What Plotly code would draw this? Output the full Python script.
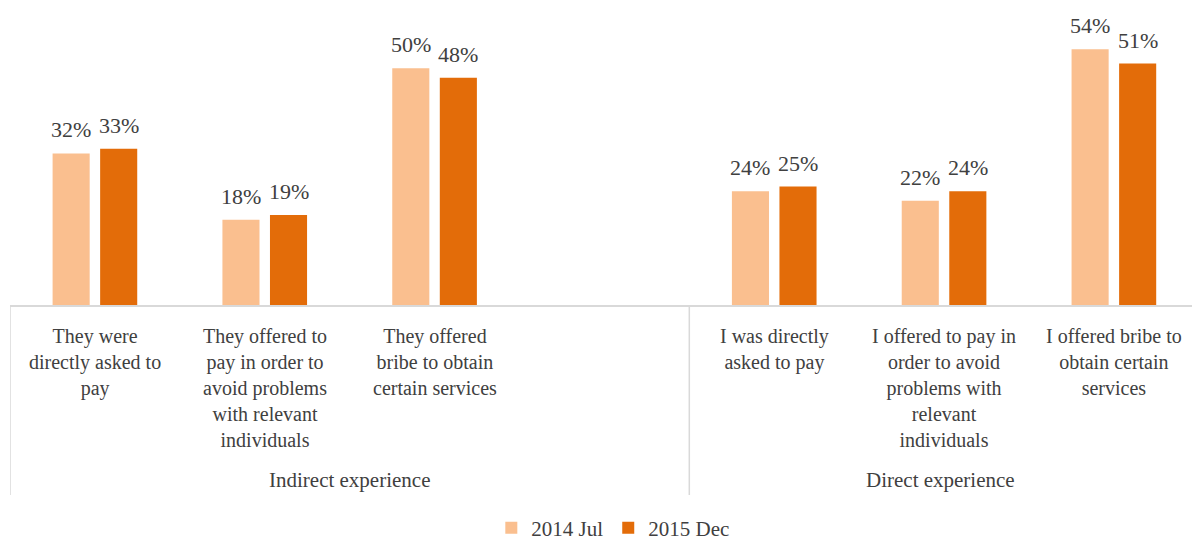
import plotly.graph_objects as go

# Survey categories (blank slot separates the two experience groups)
categories = [
    "They were<br>directly asked to<br>pay",
    "They offered to<br>pay in order to<br>avoid problems<br>with relevant<br>individuals",
    "They offered<br>bribe to obtain<br>certain services",
    " ",
    "I was directly<br>asked to pay",
    "I offered to pay in<br>order to avoid<br>problems with<br>relevant<br>individuals",
    "I offered bribe to<br>obtain certain<br>services",
]
groups = ["Indirect experience", "Direct experience"]
group_spans = [(0, 3), (4, 6)]

series_names = ["2014 Jul", "2015 Dec"]
jul_2014 = [32, 18, 50, None, 24, 22, 54]
dec_2015 = [33, 19, 48, None, 25, 24, 51]

colors = ["#FABF8F", "#E36C09"]
FONT = "Liberation Serif"
TEXT = "#404040"
GRID = "#D9D9D9"
X_MAX = 6.46
W_PLOT = 1182
H_PLOT = 295  # plot height in px, used to place elements below the axis
BARGAP = 0.44

slot_px = W_PLOT / (X_MAX + 0.5)
bar_offset_px = slot_px * (1 - BARGAP) / 4  # centre of each bar within its group

fig = go.Figure()
for name, vals, col in zip(series_names, [jul_2014, dec_2015], colors):
    fig.add_trace(go.Bar(
        x=categories, y=vals, name=name, marker_color=col,
        marker_line_width=0,
    ))


def py(px_below):
    return -px_below / H_PLOT


annotations = []
# value labels above each bar
for k, vals in enumerate([jul_2014, dec_2015]):
    shift = -bar_offset_px if k == 0 else bar_offset_px
    for cat, v in zip(categories, vals):
        if v is None:
            continue
        annotations.append(dict(
            x=cat, y=v, xref="x", yref="y", text=f"{v}%",
            showarrow=False, xanchor="center", yanchor="bottom",
            xshift=shift, yshift=9,
            font=dict(family=FONT, size=22, color=TEXT),
        ))
# category labels
for cat in categories:
    if cat.strip():
        annotations.append(dict(
            x=cat, y=py(18), xref="x", yref="paper", text=cat,
            showarrow=False, yanchor="top", xanchor="center",
            font=dict(family=FONT, size=20, color=TEXT), align="center",
        ))
# group labels
for g, (a, b) in zip(groups, group_spans):
    right = b + 0.5 if b < 6 else X_MAX
    annotations.append(dict(
        x=(a - 0.5 + right) / 2,
        y=py(175), xref="x", yref="paper", text=g,
        showarrow=False, yanchor="middle", xanchor="center",
        font=dict(family=FONT, size=21, color=TEXT),
    ))

shapes = [
    dict(type="line", xref="x", yref="paper", x0=x, x1=x, y0=0, y1=py(190),
         line=dict(color=GRID, width=1.5))
    for x in (-0.5, 3.5)
]

fig.update_layout(
    width=1192, height=540,
    margin=dict(l=10, r=0, t=10, b=235, autoexpand=False),
    plot_bgcolor="white", paper_bgcolor="white",
    barmode="group", bargap=BARGAP, bargroupgap=0.22,
    font=dict(family=FONT, color=TEXT),
    xaxis=dict(range=[-0.5, X_MAX], showticklabels=False, showgrid=False,
               showline=True, linecolor=GRID, linewidth=1.5, ticks="",
               zeroline=False),
    yaxis=dict(range=[0, 62.3], visible=False),
    legend=dict(orientation="h", x=0.51, xanchor="center", y=py(223),
                yanchor="middle", font=dict(family=FONT, size=21, color=TEXT),
                itemwidth=30),
    annotations=annotations, shapes=shapes,
    showlegend=True,
)

fig.write_html("out.html")
